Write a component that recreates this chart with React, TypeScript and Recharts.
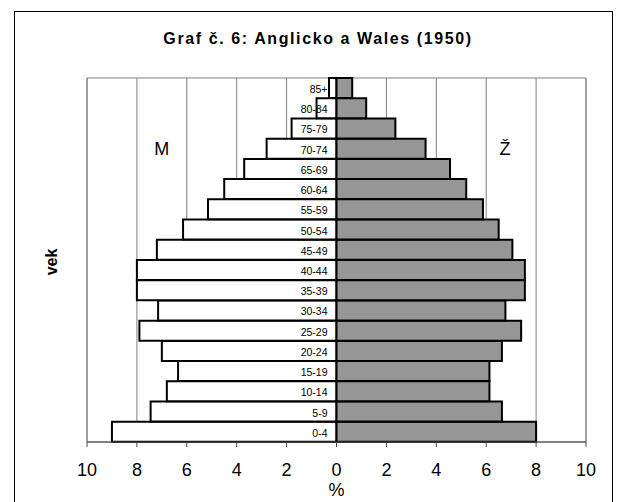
import React from 'react';
import { BarChart, Bar, XAxis, YAxis, CartesianGrid, ReferenceArea, ReferenceDot, LabelList } from 'recharts';

const ageGroups = ['0-4', '5-9', '10-14', '15-19', '20-24', '25-29', '30-34', '35-39', '40-44', '45-49', '50-54', '55-59', '60-64', '65-69', '70-74', '75-79', '80-84', '85+'];
const maleValues = [9.0, 7.45, 6.8, 6.35, 7.0, 7.9, 7.15, 8.0, 8.0, 7.2, 6.15, 5.15, 4.5, 3.7, 2.8, 1.8, 0.8, 0.3];
const femaleValues = [8.0, 6.63, 6.13, 6.13, 6.63, 7.4, 6.77, 7.55, 7.55, 7.05, 6.5, 5.87, 5.2, 4.55, 3.57, 2.36, 1.19, 0.63];
const xTicks = [-10, -8, -6, -4, -2, 0, 2, 4, 6, 8, 10];

const data = ageGroups.map((age, i) => ({ age, male: -maleValues[i], female: femaleValues[i] }));

const FONT = '"Liberation Sans", Arial, sans-serif';

const AgeLabel = (props: any) => {
  const { x, y, width, height, value } = props;
  const zeroX = Math.max(Number(x), Number(x) + Number(width));
  return (
    <text x={zeroX - 9} y={Number(y) + Number(height) / 2 + 1} textAnchor="end" dominantBaseline="central" fontSize={10.5} fill="#000" fontFamily={FONT}>
      {value}
    </text>
  );
};

export default function App() {
  return (
    <div style={{ position: 'absolute', left: 0, top: 0, width: 618, height: 502, background: '#fff', overflow: 'hidden', fontFamily: FONT }}>
      <div style={{ position: 'absolute', left: 14, top: 11, width: 599, height: 520, border: '1px solid #000', boxSizing: 'border-box' }} />
      <BarChart
        width={618}
        height={502}
        data={data}
        layout="vertical"
        stackOffset="sign"
        barCategoryGap={0}
        margin={{ top: 78, right: 32, bottom: 0, left: 87 }}
        style={{ position: 'absolute', left: 0, top: 0, fontFamily: FONT }}
      >
        <CartesianGrid horizontal={false} vertical={true} stroke="#808080" strokeWidth={1} />
        <ReferenceArea x1={-10} x2={10} fill="none" stroke="#808080" strokeWidth={1} ifOverflow="visible" />
        <XAxis
          type="number"
          domain={[-10, 10]}
          ticks={xTicks}
          tickFormatter={(v: number) => String(Math.abs(v))}
          height={60}
          tickSize={5}
          tickMargin={16}
          axisLine={{ stroke: '#444' }}
          tickLine={{ stroke: '#444' }}
          tick={{ fontSize: 18, fill: '#000', fontFamily: FONT }}
          interval={0}
          label={{ value: '%', position: 'insideBottom', offset: 6, fontSize: 18, fill: '#000', fontFamily: FONT }}
        />
        <YAxis type="category" dataKey="age" reversed hide />
        <Bar dataKey="male" stackId="a" fill="#ffffff" stroke="#000" strokeWidth={2} isAnimationActive={false}>
          <LabelList dataKey="age" content={AgeLabel} />
        </Bar>
        <Bar dataKey="female" stackId="a" fill="#969696" stroke="#000" strokeWidth={2} isAnimationActive={false} />
        <ReferenceDot x={-7} y="70-74" r={0} fill="none" stroke="none" ifOverflow="visible"
          label={{ value: 'M', position: 'center', fontSize: 18, fill: '#000', fontFamily: FONT }} />
        <ReferenceDot x={6.75} y="70-74" r={0} fill="none" stroke="none" ifOverflow="visible"
          label={{ value: 'Ž', position: 'center', fontSize: 18, fill: '#000', fontFamily: FONT }} />
      </BarChart>
      <svg width={618} height={502} style={{ position: 'absolute', left: 0, top: 0, pointerEvents: 'none' }}>
        <text x={318} y={44} textAnchor="middle" fontSize={16} fontWeight="bold" letterSpacing={1.6} fill="#000" fontFamily={FONT}>
          Graf č. 6: Anglicko a Wales (1950)
        </text>
        <text transform="translate(57,262) rotate(-90)" textAnchor="middle" fontSize={16} fontWeight="bold" fill="#000" fontFamily={FONT}>
          vek
        </text>
      </svg>
    </div>
  );
}
